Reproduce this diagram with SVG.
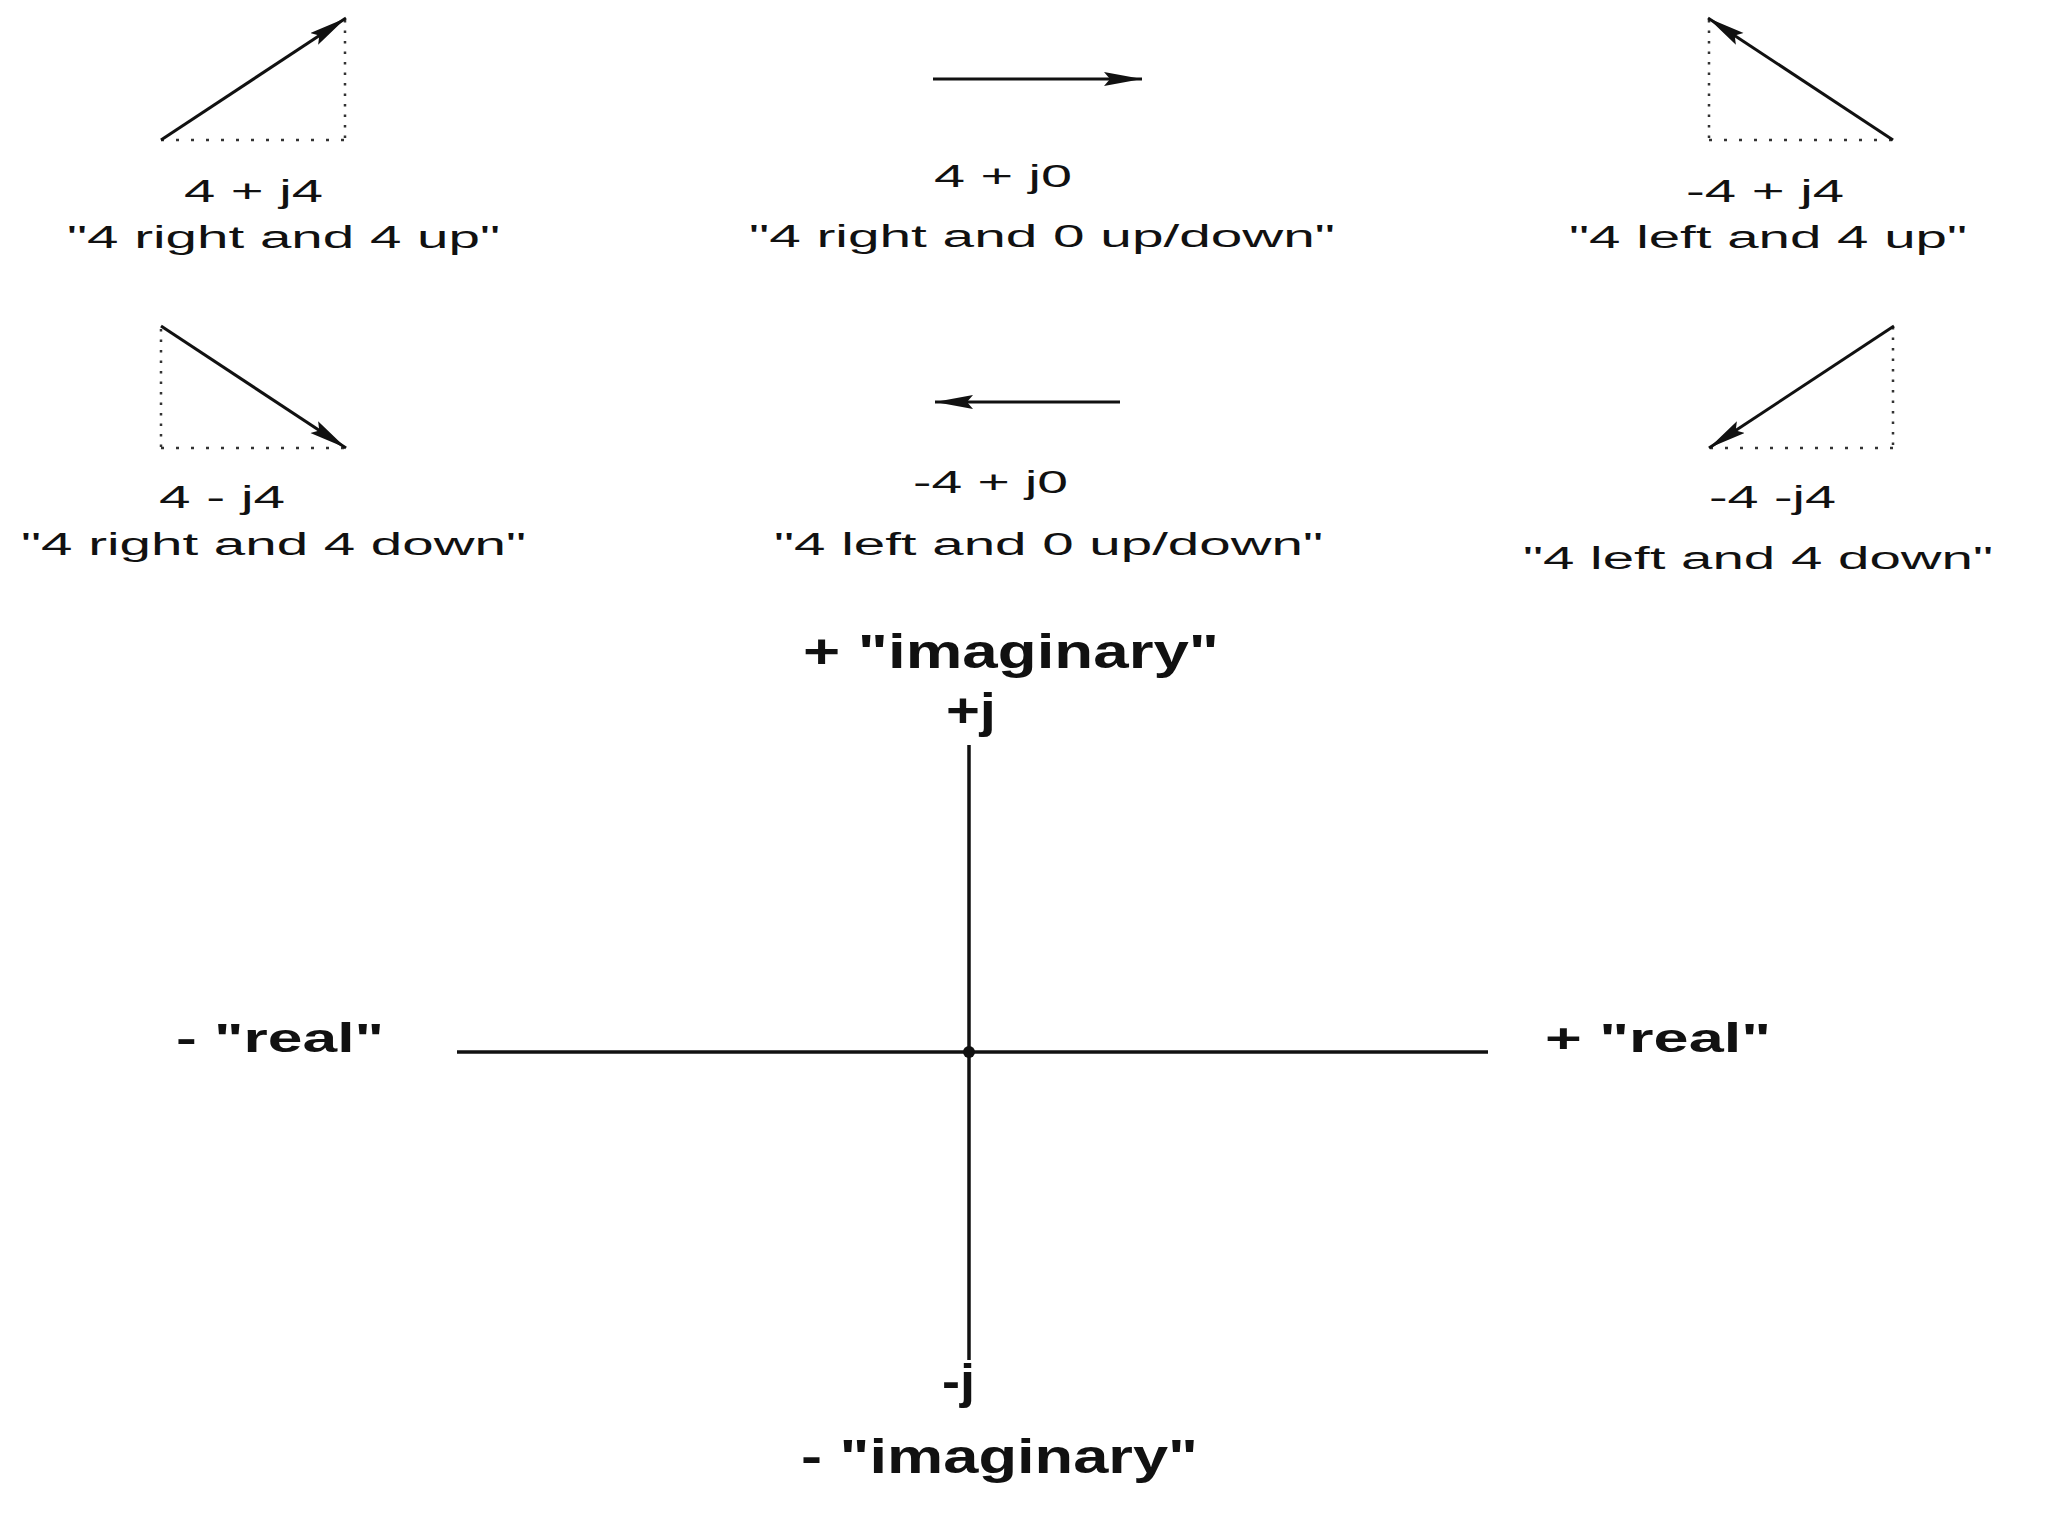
<svg xmlns="http://www.w3.org/2000/svg" width="2048" height="1536" viewBox="0 0 2048 1536">
<style>
.bg{fill:#ffffff}
.vec{stroke:#111;stroke-width:3;fill:none}
.dot{stroke:#333;stroke-width:2.5;fill:none;stroke-dasharray:2.5 8}
.doth{stroke:#333;stroke-width:2.5;fill:none;stroke-dasharray:3 12}
.axis{stroke:#111;stroke-width:3.5;fill:none}
.lbl{font-family:"Liberation Sans",Arial,sans-serif;font-size:31px;fill:#111}
.big{font-family:"Liberation Sans",Arial,sans-serif;font-size:48px;font-weight:bold;fill:#111}
.real{font-family:"Liberation Sans",Arial,sans-serif;font-size:41px;font-weight:bold;fill:#111}
</style>
<defs>
<marker id="ah" markerUnits="userSpaceOnUse" markerWidth="40" markerHeight="16" refX="38" refY="7" orient="auto">
<path d="M0,0 L38,7 L0,14 L6,7 Z" fill="#111"/>
</marker>
</defs>
<rect class="bg" x="0" y="0" width="2048" height="1536"/>
<g id="connectors">
<line class="dot" x1="345" y1="20" x2="345" y2="140"/>
<line class="doth" x1="161" y1="140" x2="345" y2="140"/>
<line class="vec" x1="161" y1="140" x2="346" y2="18" marker-end="url(#ah)"/>
<line class="vec" x1="933" y1="79" x2="1142" y2="79" marker-end="url(#ah)"/>
<line class="dot" x1="1709" y1="20" x2="1709" y2="140"/>
<line class="doth" x1="1709" y1="140" x2="1893" y2="140"/>
<line class="vec" x1="1893" y1="140" x2="1708" y2="18" marker-end="url(#ah)"/>
<line class="dot" x1="161" y1="329" x2="161" y2="448"/>
<line class="doth" x1="161" y1="448" x2="345" y2="448"/>
<line class="vec" x1="161" y1="326" x2="346" y2="448" marker-end="url(#ah)"/>
<line class="vec" x1="1120" y1="402" x2="935" y2="402" marker-end="url(#ah)"/>
<line class="dot" x1="1893" y1="327" x2="1893" y2="448"/>
<line class="doth" x1="1710" y1="448" x2="1893" y2="448"/>
<line class="vec" x1="1894" y1="326" x2="1709" y2="448" marker-end="url(#ah)"/>
<line class="axis" x1="969" y1="745" x2="969" y2="1360"/>
<line class="axis" x1="457" y1="1052" x2="1488" y2="1052"/>
<circle cx="969" cy="1052" r="6" fill="#111"/>
</g>
<g id="v1">
<text class="lbl" x="184" y="202" textLength="139" lengthAdjust="spacingAndGlyphs">4 + j4</text>
<text class="lbl" x="67" y="248" textLength="433" lengthAdjust="spacingAndGlyphs">"4 right and 4 up"</text>
</g>
<g id="v2">
<text class="lbl" x="934" y="187" textLength="138" lengthAdjust="spacingAndGlyphs">4 + j0</text>
<text class="lbl" x="749" y="247" textLength="586" lengthAdjust="spacingAndGlyphs">"4 right and 0 up/down"</text>
</g>
<g id="v3">
<text class="lbl" x="1686" y="202" textLength="158" lengthAdjust="spacingAndGlyphs">-4 + j4</text>
<text class="lbl" x="1569" y="248" textLength="398" lengthAdjust="spacingAndGlyphs">"4 left and 4 up"</text>
</g>
<g id="v4">
<text class="lbl" x="159" y="508" textLength="126" lengthAdjust="spacingAndGlyphs">4 - j4</text>
<text class="lbl" x="21" y="555" textLength="505" lengthAdjust="spacingAndGlyphs">"4 right and 4 down"</text>
</g>
<g id="v5">
<text class="lbl" x="913" y="493" textLength="155" lengthAdjust="spacingAndGlyphs">-4 + j0</text>
<text class="lbl" x="774" y="555" textLength="549" lengthAdjust="spacingAndGlyphs">"4 left and 0 up/down"</text>
</g>
<g id="v6">
<text class="lbl" x="1709" y="508" textLength="127" lengthAdjust="spacingAndGlyphs">-4 -j4</text>
<text class="lbl" x="1523" y="569" textLength="470" lengthAdjust="spacingAndGlyphs">"4 left and 4 down"</text>
</g>
<g id="axes-labels">
<text class="big" x="803" y="668" textLength="416" lengthAdjust="spacingAndGlyphs">+ "imaginary"</text>
<text class="big" x="946" y="727" textLength="50" lengthAdjust="spacingAndGlyphs">+j</text>
<text class="big" x="942" y="1398" textLength="33" lengthAdjust="spacingAndGlyphs">-j</text>
<text class="big" x="801" y="1473" textLength="397" lengthAdjust="spacingAndGlyphs">- "imaginary"</text>
<text class="real" x="176" y="1052" textLength="208" lengthAdjust="spacingAndGlyphs">- "real"</text>
<text class="real" x="1545" y="1052" textLength="226" lengthAdjust="spacingAndGlyphs">+ "real"</text>
</g>
</svg>
